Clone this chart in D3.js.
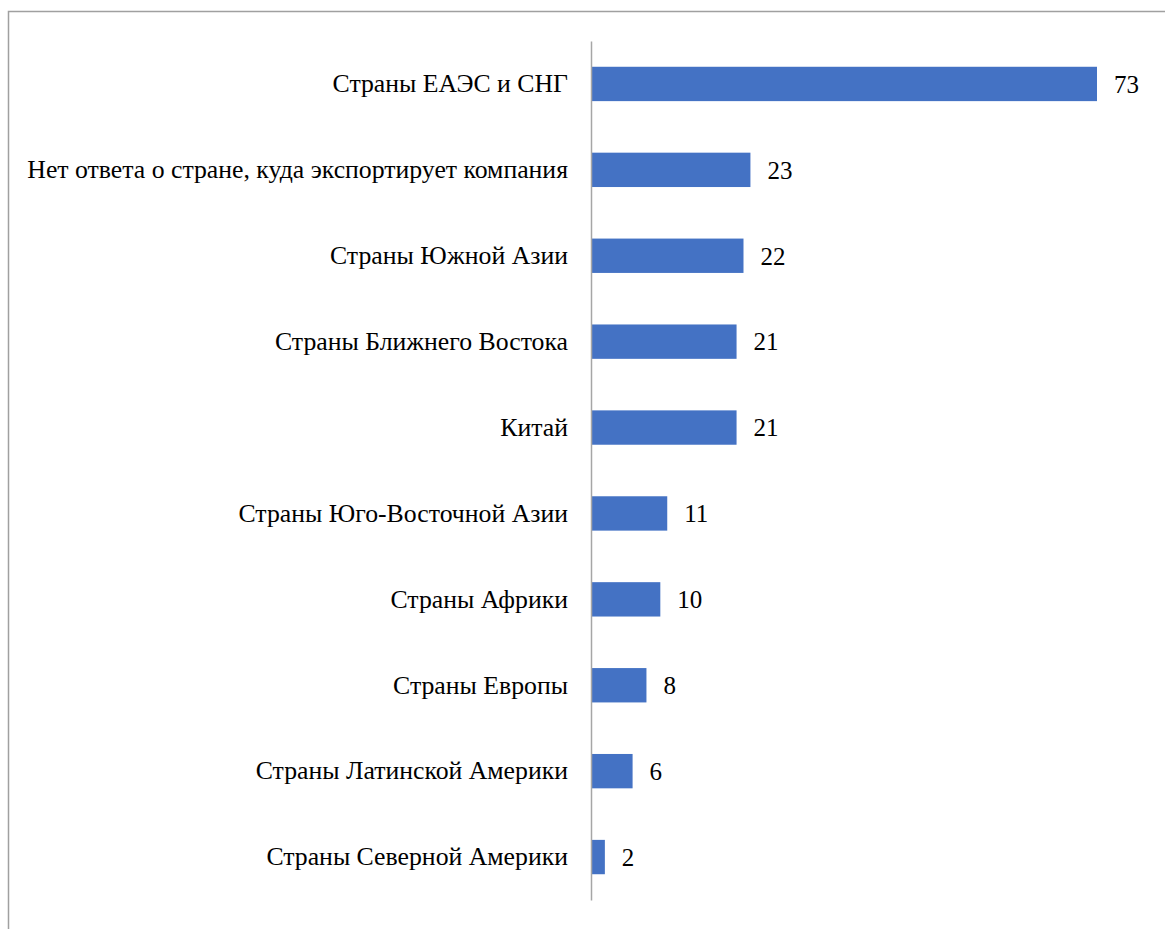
<!DOCTYPE html>
<html>
<head>
<meta charset="utf-8">
<script src="https://cdn.jsdelivr.net/npm/d3@7"></script>
</head>
<body style="margin:0">
<svg id="chart" width="1165" height="929" style="font-family: 'Liberation Serif'"></svg>
<script>
// Categories, top to bottom
const categories = [
    'Страны ЕАЭС и СНГ',
    'Нет ответа о стране, куда экспортирует компания',
    'Страны Южной Азии',
    'Страны Ближнего Востока',
    'Китай',
    'Страны Юго-Восточной Азии',
    'Страны Африки',
    'Страны Европы',
    'Страны Латинской Америки',
    'Страны Северной Америки'
];
const values = [73, 23, 22, 21, 21, 11, 10, 8, 6, 2];

const width = 1165;
const height = 929;
const margin = { top: 41, right: 68, bottom: 29, left: 591 };

const svg = d3.select('#chart');

// chart frame (only top and left edges visible in the picture)
svg.append('path')
    .attr('d', `M8.5,${height} V11.5 H${width}`)
    .attr('fill', 'none')
    .attr('stroke', '#a0a0a0')
    .attr('stroke-width', 1.5);

const data = categories.map((c, i) => ({ name: c, value: values[i] }));

const y = d3.scaleBand()
    .domain(categories)
    .range([margin.top, height - margin.bottom])
    .paddingInner(0.6)
    .paddingOuter(0.3);

const x = d3.scaleLinear()
    .domain([0, 73])
    .range([margin.left, 1097]);

// bars
svg.selectAll('.bar')
    .data(data)
    .enter()
    .append('rect')
    .attr('class', 'bar')
    .attr('x', x(0))
    .attr('y', d => y(d.name))
    .attr('width', d => x(d.value) - x(0))
    .attr('height', y.bandwidth())
    .attr('fill', '#4472c4');

// category axis
const yAxis = svg.append('g')
    .attr('transform', `translate(${x(0)},0)`)
    .call(d3.axisLeft(y).tickSize(0).tickPadding(23));

// drop d3's default sans-serif so the labels inherit the serif face
yAxis.attr('font-family', null).attr('font-size', null);

yAxis.select('.domain')
    .attr('stroke', '#a6a6a6')
    .attr('stroke-width', 1.5);

const labels = yAxis.selectAll('text')
    .attr('font-family', 'Liberation Serif')
    .attr('font-size', 25)
    .attr('fill', '#000');

// the longest label spans about 541px in the reference, fit the size to it
const longest = d3.max(labels.nodes(), n => n.getComputedTextLength());
const labelSize = Math.min(27, 25 * 541 / longest);
labels.attr('font-size', labelSize);

// value labels
svg.selectAll('.value')
    .data(data)
    .enter()
    .append('text')
    .attr('class', 'value')
    .attr('x', d => x(d.value) + 17)
    .attr('y', d => y(d.name) + y.bandwidth() / 2)
    .attr('dy', '0.35em')
    .attr('font-family', 'Liberation Serif')
    .attr('font-size', 25)
    .attr('fill', '#000')
    .text(d => d.value);
</script>
</body>
</html>
